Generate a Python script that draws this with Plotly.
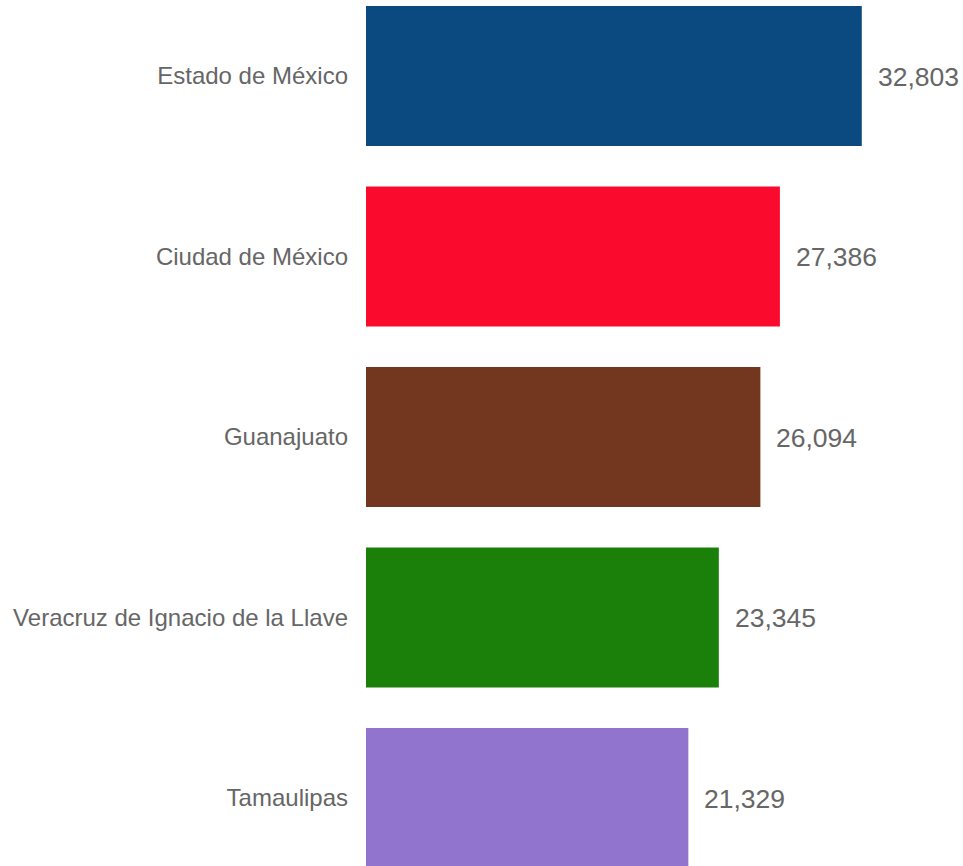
import plotly.graph_objects as go

categories = ["Estado de México", "Ciudad de México", "Guanajuato",
              "Veracruz de Ignacio de la Llave", "Tamaulipas"]
values = [32803, 27386, 26094, 23345, 21329]
colors = ["#0B4A80", "#FA0A2C", "#73361F", "#1A800A", "#9074CD"]

fig = go.Figure(go.Bar(
    x=values, y=categories, orientation="h",
    marker=dict(color=colors, line=dict(width=0)),
    width=0.776, hoverinfo="skip",
))

for c, v in zip(categories, values):
    fig.add_annotation(x=v, y=c, text=f"{v:,}", showarrow=False,
                       xanchor="left", yanchor="middle", xshift=14, yshift=-1,
                       font=dict(family="Liberation Sans, Arial", size=26.5, color="#666666"))

fig.update_layout(
    width=963, height=866,
    margin=dict(l=366, r=0, t=0, b=0),
    paper_bgcolor="white", plot_bgcolor="white",
    showlegend=False,
    font=dict(family="Liberation Sans, Arial", color="#666666"),
)
fig.update_xaxes(range=[0, 39500], visible=False, showgrid=False, zeroline=False)
fig.update_yaxes(type="category", categoryorder="array", categoryarray=categories,
                 range=[4.377, -0.421], showgrid=False, zeroline=False, showline=False,
                 ticks="", ticklabelstandoff=17,
                 tickfont=dict(family="Liberation Sans, Arial", size=24, color="#666666"))

fig.write_html("out.html", config={"displayModeBar": False},
               post_script="document.body.style.margin='0';")
